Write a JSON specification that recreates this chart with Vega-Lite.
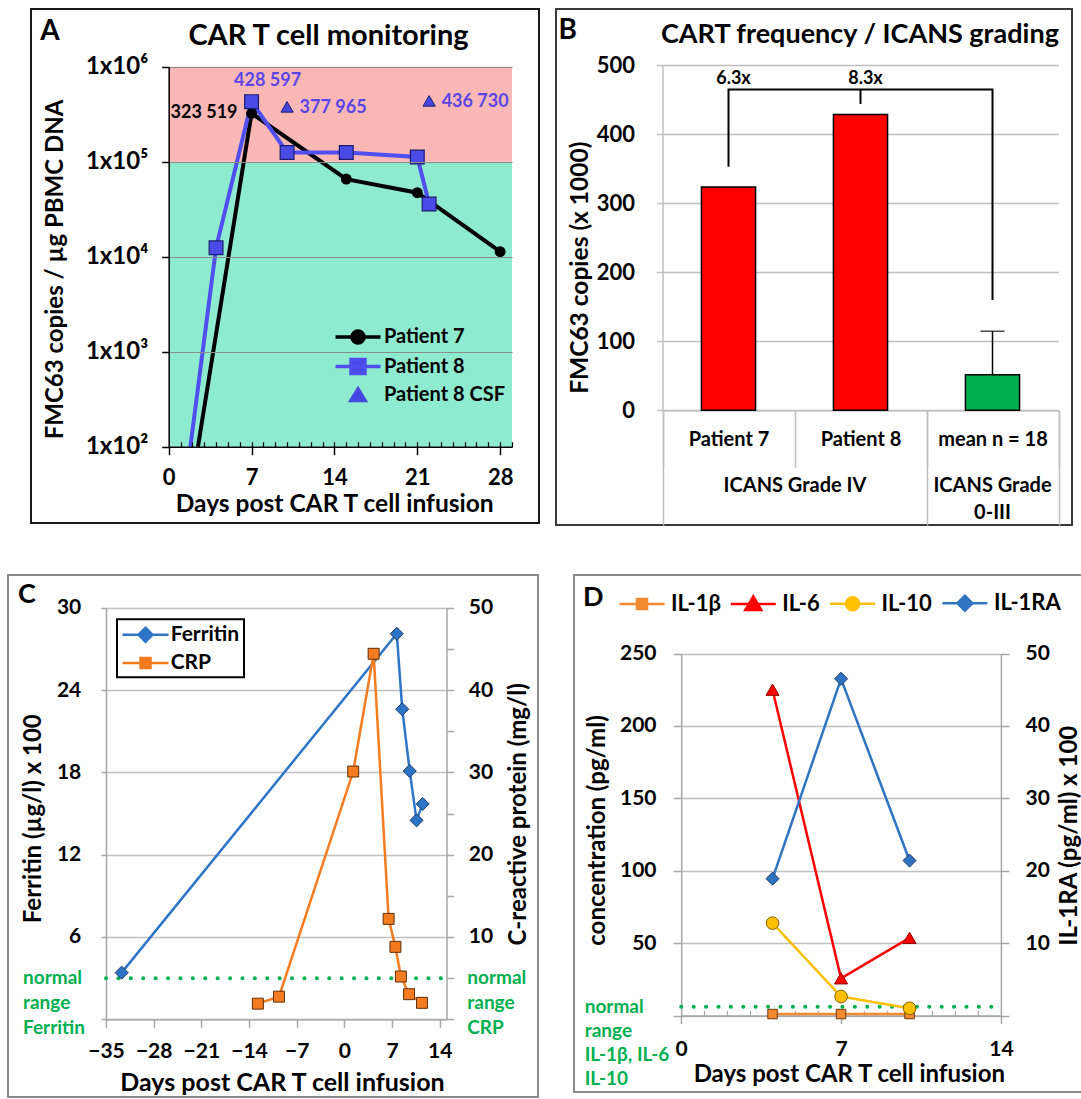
{
"$schema": "https://vega.github.io/schema/vega-lite/v6.json",
"background": "white",
"padding": {"left": 7, "top": 8, "right": 0, "bottom": 0},
"config": {
  "font": "Lato",
  "view": {"stroke": null},
  "axis": {"labelFont": "Lato", "titleFont": "Lato", "labelColor": "black", "titleColor": "black", "labelFontWeight": "bold", "titleFontWeight": "bold", "labelFlush": false, "labelOverlap": false},
  "legend": {"labelFont": "Lato", "labelColor": "black", "labelFontWeight": "bold", "strokeWidth": 2},
  "title": {"font": "Lato", "color": "black", "fontWeight": "bold"},
  "text": {"font": "Lato"},
  "locale": {"number": {"decimal": ".", "thousands": " ", "grouping": [3], "currency": ["", ""]}}
},
"datasets": {
  "carT": [
    {"day": 2.47, "value": 100, "series": "Patient 7"},
    {"day": 7, "value": 323519, "series": "Patient 7"},
    {"day": 15, "value": 65600, "series": "Patient 7"},
    {"day": 21, "value": 47200, "series": "Patient 7"},
    {"day": 28, "value": 11300, "series": "Patient 7"},
    {"day": 1.83, "value": 100, "series": "Patient 8"},
    {"day": 4, "value": 12400, "series": "Patient 8"},
    {"day": 7, "value": 428597, "series": "Patient 8"},
    {"day": 10, "value": 125000, "series": "Patient 8"},
    {"day": 15, "value": 125000, "series": "Patient 8"},
    {"day": 21, "value": 112000, "series": "Patient 8"},
    {"day": 22, "value": 35800, "series": "Patient 8"},
    {"day": 10, "value": 377965, "series": "Patient 8 CSF"},
    {"day": 22, "value": 436730, "series": "Patient 8 CSF"}
  ],
  "zonesA": [
    {"from": 100, "to": 100000, "zone": "below"},
    {"from": 100000, "to": 1000000, "zone": "above"}
  ],
  "seriesA": [{"series": "Patient 7"}, {"series": "Patient 8"}, {"series": "Patient 8 CSF"}],
  "barsB": [
    {"group": "Patient 7", "value": 323.519},
    {"group": "Patient 8", "value": 428.597},
    {"group": "mean n = 18", "value": 51.5, "upper": 114.6}
  ],
  "bracketB": [
    {"group": "Patient 7", "v": 353, "step": 1},
    {"group": "Patient 7", "v": 465, "step": 2},
    {"group": "mean n = 18", "v": 465, "step": 3},
    {"group": "mean n = 18", "v": 160, "step": 4}
  ],
  "bracketTickB": [{"group": "Patient 8", "v": 444, "v2": 465}],
  "ratiosB": [
    {"group": "Patient 7", "v": 480, "ratio": "6.3x"},
    {"group": "Patient 8", "v": 480, "ratio": "8.3x"}
  ],
  "ferritin": [
    {"day": -32.7, "value": 3.4},
    {"day": 7.7, "value": 28.1},
    {"day": 8.5, "value": 22.6},
    {"day": 9.6, "value": 18.1},
    {"day": 10.6, "value": 14.5},
    {"day": 11.5, "value": 15.7}
  ],
  "crp": [
    {"day": -12.7, "crp": 1.9},
    {"day": -9.6, "crp": 2.75},
    {"day": 1.3, "crp": 30.1},
    {"day": 4.3, "crp": 44.4},
    {"day": 6.5, "crp": 12.2},
    {"day": 7.5, "crp": 8.8},
    {"day": 8.3, "crp": 5.2},
    {"day": 9.5, "crp": 3.05},
    {"day": 11.4, "crp": 2.0}
  ],
  "seriesC": [{"series": "Ferritin"}, {"series": "CRP"}],
  "cyto": [
    {"day": 4, "value": 1, "series": "IL-1β"},
    {"day": 7, "value": 1, "series": "IL-1β"},
    {"day": 10, "value": 1, "series": "IL-1β"},
    {"day": 4, "value": 225, "series": "IL-6"},
    {"day": 7, "value": 25.7, "series": "IL-6"},
    {"day": 10, "value": 53.6, "series": "IL-6"},
    {"day": 4, "value": 63.8, "series": "IL-10"},
    {"day": 7, "value": 13.1, "series": "IL-10"},
    {"day": 10, "value": 5, "series": "IL-10"}
  ],
  "il1ra": [
    {"day": 4, "value": 18.9},
    {"day": 7, "value": 46.5},
    {"day": 10, "value": 21.4}
  ],
  "seriesD": [{"series": "IL-1β"}, {"series": "IL-6"}, {"series": "IL-10"}, {"series": "IL-1RA"}]
},
"spacing": 47,
"resolve": {"scale": {"color": "independent", "fill": "independent", "stroke": "independent", "shape": "independent"}},
"vconcat": [
 {"spacing": 15,
  "resolve": {"scale": {"color": "independent", "fill": "independent", "stroke": "independent", "shape": "independent"}},
  "hconcat": [
  {"width": 7, "height": 10, "data": {"values": [{}]}, "mark": {"type": "point", "opacity": 0}},
  {
   "width": 508, "height": 514,
   "view": {"stroke": "#1a1a1a", "strokeWidth": 2},
   "title": {"text": "CAR T cell monitoring", "anchor": "middle", "frame": "group", "orient": "top", "dx": 43.5, "offset": -56, "baseline": "middle", "fontSize": 29},
   "resolve": {"scale": {"x": "independent", "y": "independent", "color": "independent"}},
   "layer": [
    {"data": {"name": "zonesA"}, "mark": {"type": "rect"},
     "encoding": {
      "x": {"datum": 0, "type": "quantitative", "scale": {"domain": [0, 29], "range": [137.7, 481], "nice": false, "zero": false}, "axis": null},
      "x2": {"datum": 29},
      "y": {"field": "from", "type": "quantitative", "scale": {"type": "log", "domain": [100, 1000000], "range": [437.7, 57.7], "nice": false},
        "axis": {"orient": "left", "values": [100, 1000, 10000, 100000, 1000000], "offset": -137.7, "zindex": 1,
          "domainColor": "black", "domainWidth": 1.5, "tickColor": "black", "tickWidth": 1.5, "tickSize": 7,
          "grid": true, "gridColor": "#8C8C8C", "gridWidth": 1,
          "labelExpr": "'1x10' + (datum.value == 100 ? '²' : datum.value == 1000 ? '³' : datum.value == 10000 ? '⁴' : datum.value == 100000 ? '⁵' : '⁶')",
          "labelFontSize": 24, "labelPadding": 14, "labelBaseline": "middle", "labelAlign": "right",
          "title": "FMC63 copies / µg PBMC DNA", "titleFontSize": 24, "titleX": -113.7, "titleY": 260, "titleAngle": 270, "titleAlign": "center", "titleBaseline": "middle"}},
      "y2": {"field": "to"},
      "color": {"field": "zone", "type": "nominal", "scale": {"domain": ["below", "above"], "range": ["#8EEBCF", "#F9B8B6"]}, "legend": null}
     }},
    {"data": {"name": "carT"}, "transform": [{"filter": "datum.series != 'Patient 8 CSF'"}],
     "mark": {"type": "line", "strokeWidth": 4},
     "encoding": {
      "x": {"field": "day", "type": "quantitative", "scale": {"domain": [0, 29], "range": [137.7, 481], "nice": false, "zero": false},
        "axis": {"orient": "bottom", "values": [0, 7, 14, 21, 28], "offset": -76.3, "zindex": 1, "domainColor": "black", "domainWidth": 1.5,
          "tickColor": "black", "tickWidth": 1.5, "tickSize": 8, "grid": false, "labelFontSize": 22, "labelPadding": 22.5, "labelBaseline": "middle", "labelAngle": 0,
          "title": "Days post CAR T cell infusion", "titleFontSize": 24.5, "titleX": 303.2, "titleY": 58, "titleAlign": "center", "titleBaseline": "middle"}},
      "y": {"field": "value", "type": "quantitative", "scale": {"type": "log", "domain": [100, 1000000], "range": [437.7, 57.7], "nice": false}, "axis": null},
      "color": {"field": "series", "type": "nominal", "scale": {"domain": ["Patient 7", "Patient 8"], "range": ["black", "#4F4FEF"]}, "legend": null}
     }},
    {"data": {"name": "carT"}, "transform": [{"filter": "datum.series == 'Patient 7' && datum.value > 100"}],
     "mark": {"type": "point", "shape": "circle", "filled": true, "size": 120, "color": "black", "opacity": 1},
     "encoding": {
      "x": {"field": "day", "type": "quantitative", "scale": {"domain": [0, 29], "range": [137.7, 481], "nice": false, "zero": false},
        "axis": {"orient": "bottom", "values": [1,2,3,4,5,6,7,8,9,10,11,12,13,14,15,16,17,18,19,20,21,22,23,24,25,26,27,28,29], "offset": -76.3, "zindex": 1,
          "tickSize": -5, "tickColor": "black", "tickWidth": 1.2, "domain": false, "labels": false, "grid": false,
          "title": "A", "titleFontSize": 28, "titleX": 18.5, "titleY": -415.7, "titleAngle": 0, "titleAlign": "center", "titleBaseline": "middle"}},
      "y": {"field": "value", "type": "quantitative", "scale": {"type": "log", "domain": [100, 1000000], "range": [437.7, 57.7], "nice": false}, "axis": null}
     }},
    {"data": {"name": "carT"}, "transform": [{"filter": "datum.series == 'Patient 8' && datum.value > 100"}],
     "mark": {"type": "point", "shape": "square", "filled": true, "size": 190, "fill": "#4A4AE6", "stroke": "#1C1C6E", "strokeWidth": 1.2, "opacity": 1},
     "encoding": {
      "x": {"field": "day", "type": "quantitative", "scale": {"domain": [0, 29], "range": [137.7, 481], "nice": false, "zero": false}, "axis": null},
      "y": {"field": "value", "type": "quantitative", "scale": {"type": "log", "domain": [100, 1000000], "range": [437.7, 57.7], "nice": false}, "axis": null}
     }},
    {"data": {"name": "carT"}, "transform": [{"filter": "datum.series == 'Patient 8 CSF'"}],
     "mark": {"type": "point", "shape": "triangle-up", "filled": true, "size": 150, "fill": "#4646E0", "stroke": "#1C1C6E", "strokeWidth": 1, "opacity": 1},
     "encoding": {
      "x": {"field": "day", "type": "quantitative", "scale": {"domain": [0, 29], "range": [137.7, 481], "nice": false, "zero": false}, "axis": null},
      "y": {"field": "value", "type": "quantitative", "scale": {"type": "log", "domain": [100, 1000000], "range": [437.7, 57.7], "nice": false}, "axis": null}
     }},
    {"data": {"name": "carT"}, "transform": [{"filter": "datum.series == 'Patient 7' && datum.day == 7"}],
     "mark": {"type": "text", "align": "right", "baseline": "middle", "dx": -14, "dy": 0, "fontSize": 18, "fontWeight": "bold", "color": "black"},
     "encoding": {
      "x": {"field": "day", "type": "quantitative", "scale": {"domain": [0, 29], "range": [137.7, 481], "nice": false, "zero": false}, "axis": null},
      "y": {"field": "value", "type": "quantitative", "scale": {"type": "log", "domain": [100, 1000000], "range": [437.7, 57.7], "nice": false}, "axis": null},
      "text": {"field": "value", "type": "quantitative", "format": ","}
     }},
    {"data": {"name": "carT"}, "transform": [{"filter": "datum.series == 'Patient 8' && datum.day == 7"}],
     "mark": {"type": "text", "align": "center", "baseline": "middle", "dx": 16, "dy": -20.7, "fontSize": 18, "fontWeight": "bold", "color": "#5A46E6"},
     "encoding": {
      "x": {"field": "day", "type": "quantitative", "scale": {"domain": [0, 29], "range": [137.7, 481], "nice": false, "zero": false}, "axis": null},
      "y": {"field": "value", "type": "quantitative", "scale": {"type": "log", "domain": [100, 1000000], "range": [437.7, 57.7], "nice": false}, "axis": null},
      "text": {"field": "value", "type": "quantitative", "format": ","}
     }},
    {"data": {"name": "carT"}, "transform": [{"filter": "datum.series == 'Patient 8 CSF'"}],
     "mark": {"type": "text", "align": "left", "baseline": "middle", "dx": 12.5, "dy": 1, "fontSize": 18, "fontWeight": "bold", "color": "#5A46E6"},
     "encoding": {
      "x": {"field": "day", "type": "quantitative", "scale": {"domain": [0, 29], "range": [137.7, 481], "nice": false, "zero": false}, "axis": null},
      "y": {"field": "value", "type": "quantitative", "scale": {"type": "log", "domain": [100, 1000000], "range": [437.7, 57.7], "nice": false}, "axis": null},
      "text": {"field": "value", "type": "quantitative", "format": ","}
     }},
    {"data": {"name": "seriesA"},
     "mark": {"type": "point", "opacity": 0},
     "encoding": {
      "shape": {"field": "series", "type": "nominal",
        "scale": {"domain": ["Patient 7", "Patient 8", "Patient 8 CSF"], "range": ["M-1,0H3.5M1.85,0A0.6,0.6,0,1,1,0.65,0A0.6,0.6,0,1,1,1.85,0Z", "M-1,0H3.5M0.55,-0.7H1.95V0.7H0.55Z", "M1.25,-0.6L1.95,0.55H0.55Z"]},
        "legend": {"orient": "none", "legendX": 302.5, "legendY": 316, "title": null, "symbolSize": 400, "symbolStrokeWidth": 3.5, "symbolOpacity": 1, "labelFontSize": 20, "labelOffset": 26.4, "rowPadding": 1.5, "padding": 0, "direction": "vertical"}},
      "fill": {"field": "series", "type": "nominal", "scale": {"domain": ["Patient 7", "Patient 8", "Patient 8 CSF"], "range": ["black", "#4A4AE6", "#4646E0"]},
        "legend": {"orient": "none", "legendX": 302.5, "legendY": 316, "title": null, "symbolSize": 400, "symbolStrokeWidth": 3.5, "symbolOpacity": 1, "labelFontSize": 20, "labelOffset": 26.4, "rowPadding": 1.5, "padding": 0, "direction": "vertical"}},
      "stroke": {"field": "series", "type": "nominal", "scale": {"domain": ["Patient 7", "Patient 8", "Patient 8 CSF"], "range": ["black", "#4F4FEF", "#4646E0"]},
        "legend": {"orient": "none", "legendX": 302.5, "legendY": 316, "title": null, "symbolSize": 400, "symbolStrokeWidth": 3.5, "symbolOpacity": 1, "labelFontSize": 20, "labelOffset": 26.4, "rowPadding": 1.5, "padding": 0, "direction": "vertical"}}
     }}
   ]
  },
  {
   "width": 516, "height": 516,
   "view": {"stroke": "#3a3a3a", "strokeWidth": 2},
   "title": {"text": "CART frequency / ICANS grading", "anchor": "middle", "frame": "group", "orient": "top", "dx": 45.9, "offset": -52.9, "baseline": "middle", "fontSize": 27},
   "resolve": {"scale": {"x": "independent", "y": "independent"}},
   "layer": [
    {"data": {"name": "barsB"},
     "mark": {"type": "bar", "stroke": "black", "strokeWidth": 1.5},
     "encoding": {
      "x": {"field": "group", "type": "nominal", "sort": null,
        "scale": {"type": "band", "domain": ["Patient 7", "Patient 8", "mean n = 18"], "range": [106.5, 502.5], "paddingInner": 0.59, "paddingOuter": 0.295},
        "axis": null},
      "y": {"field": "value", "type": "quantitative", "scale": {"domain": [0, 500], "range": [401.3, 56.3], "nice": false},
        "axis": {"orient": "left", "values": [0, 100, 200, 300, 400, 500], "offset": -106.5, "domainColor": "#BFBFBF", "domainWidth": 1.5,
          "tickColor": "#BFBFBF", "tickWidth": 1.5, "tickSize": 6, "grid": true, "gridColor": "#BFBFBF", "gridWidth": 1.5,
          "labelFontSize": 22, "labelPadding": 22, "labelBaseline": "middle",
          "title": "FMC63 copies (x 1000)", "titleFontSize": 24.5, "titleX": -82.1, "titleY": 258.2, "titleAngle": 270, "titleAlign": "center", "titleBaseline": "middle"}},
      "fill": {"field": "group", "type": "nominal", "scale": {"domain": ["Patient 7", "Patient 8", "mean n = 18"], "range": ["#FF0000", "#FF0000", "#00B050"]}, "legend": null}
     }},
    {"data": {"name": "barsB"}, "transform": [{"filter": "datum.group == 'mean n = 18'"}],
     "mark": {"type": "rule", "color": "black", "strokeWidth": 1.5},
     "encoding": {
      "x": {"field": "group", "type": "nominal", "sort": null,
        "scale": {"type": "band", "domain": ["Patient 7", "Patient 8", "mean n = 18"], "range": [106.5, 502.5], "paddingInner": 0, "paddingOuter": 0},
        "axis": {"orient": "bottom", "offset": -114.7, "tickBand": "extent", "tickSize": 57, "tickColor": "#BFBFBF", "tickWidth": 1.5,
          "domainColor": "#BFBFBF", "domainWidth": 1.5, "grid": false, "labelFontSize": 20, "labelPadding": -27.8, "labelBaseline": "middle", "labelAngle": 0, "title": null}},
      "y": {"field": "value", "type": "quantitative", "scale": {"domain": [0, 500], "range": [401.3, 56.3], "nice": false}, "axis": null},
      "y2": {"field": "upper"}
     }},
    {"data": {"name": "barsB"}, "transform": [{"filter": "datum.group == 'mean n = 18'"}],
     "mark": {"type": "tick", "size": 24, "thickness": 1.5, "color": "black"},
     "encoding": {
      "x": {"field": "group", "type": "nominal", "sort": null,
        "scale": {"type": "band", "domain": ["Patient 7", "Patient 8", "mean n = 18"], "range": [106.5, 502.5], "paddingInner": 0, "paddingOuter": 0},
        "axis": {"orient": "bottom", "offset": -114.7, "values": ["mean n = 18"], "tickBand": "extent", "tickSize": 114.7, "tickColor": "#BFBFBF", "tickWidth": 1.5,
          "domain": false, "grid": false, "labels": false, "title": null}},
      "y": {"field": "upper", "type": "quantitative", "scale": {"domain": [0, 500], "range": [401.3, 56.3], "nice": false}, "axis": null}
     }},
    {"data": {"name": "bracketB"},
     "mark": {"type": "line", "color": "black", "strokeWidth": 2},
     "encoding": {
      "x": {"field": "group", "type": "nominal", "sort": null,
        "scale": {"type": "band", "domain": ["Patient 7", "Patient 8", "mean n = 18"], "range": [106.5, 502.5], "paddingInner": 0, "paddingOuter": 0},
        "axis": {"orient": "bottom", "offset": -114.7, "values": ["Patient 7"], "tickOffset": -66, "tickSize": 114.7, "tickColor": "#BFBFBF", "tickWidth": 1.5,
          "domain": false, "grid": false,
          "labelExpr": "'ICANS Grade IV'", "labelOffset": 132, "labelPadding": -49.5, "labelBaseline": "top", "labelFontSize": 20, "labelAngle": 0,
          "title": "B", "titleFontSize": 28, "titleX": 11.3, "titleY": -380, "titleAngle": 0, "titleAlign": "center", "titleBaseline": "middle"}},
      "y": {"field": "v", "type": "quantitative", "scale": {"domain": [0, 500], "range": [401.3, 56.3], "nice": false}, "axis": null},
      "order": {"field": "step", "type": "quantitative"}
     }},
    {"data": {"name": "bracketTickB"},
     "mark": {"type": "rule", "color": "black", "strokeWidth": 2},
     "encoding": {
      "x": {"field": "group", "type": "nominal", "sort": null,
        "scale": {"type": "band", "domain": ["Patient 7", "Patient 8", "mean n = 18"], "range": [106.5, 502.5], "paddingInner": 0, "paddingOuter": 0},
        "axis": {"orient": "bottom", "offset": -114.7, "values": ["mean n = 18"], "ticks": false, "domain": false, "grid": false,
          "labelExpr": "['ICANS Grade', '0-III']", "labelPadding": 65, "labelBaseline": "top", "labelLineHeight": 27, "labelFontSize": 20, "labelAngle": 0, "title": null}},
      "y": {"field": "v", "type": "quantitative", "scale": {"domain": [0, 500], "range": [401.3, 56.3], "nice": false}, "axis": null},
      "y2": {"field": "v2"}
     }},
    {"data": {"name": "ratiosB"},
     "mark": {"type": "text", "align": "center", "baseline": "middle", "dx": 5, "fontSize": 18, "fontWeight": "bold", "color": "black"},
     "encoding": {
      "x": {"field": "group", "type": "nominal", "sort": null,
        "scale": {"type": "band", "domain": ["Patient 7", "Patient 8", "mean n = 18"], "range": [106.5, 502.5], "paddingInner": 0, "paddingOuter": 0}, "axis": null},
      "y": {"field": "v", "type": "quantitative", "scale": {"domain": [0, 500], "range": [401.3, 56.3], "nice": false}, "axis": null},
      "text": {"field": "ratio"}
     }}
   ]
  }
 ]},
 {"spacing": 34,
  "resolve": {"scale": {"color": "independent", "fill": "independent", "stroke": "independent", "shape": "independent"}},
  "hconcat": [
  {
   "width": 530, "height": 522,
   "view": {"stroke": "#8a8a8a", "strokeWidth": 2},
   "title": {"text": "C", "anchor": "start", "frame": "group", "orient": "top", "dx": 10, "offset": -47, "baseline": "middle", "fontSize": 27},
   "resolve": {"scale": {"x": "independent", "y": "independent"}},
   "layer": [
    {"data": {"values": [{}]},
     "mark": {"type": "rule", "color": "#00B050", "strokeWidth": 4, "strokeDash": [0.1, 12.3], "strokeCap": "round"},
     "encoding": {
      "x": {"datum": -35, "type": "quantitative", "scale": {"domain": [-35, 15], "range": [98, 438.5], "nice": false, "zero": false}, "axis": null},
      "x2": {"datum": 15},
      "y": {"datum": 3, "type": "quantitative", "scale": {"domain": [0, 30], "range": [444.3, 32.7], "nice": false}, "axis": null}
     }},
    {"data": {"name": "ferritin"},
     "mark": {"type": "line", "color": "#2E75C8", "strokeWidth": 2.5},
     "encoding": {
      "x": {"field": "day", "type": "quantitative", "scale": {"domain": [-35, 15], "range": [98, 438.5], "nice": false, "zero": false},
        "axis": {"orient": "bottom", "values": [-35, -28, -21, -14, -7, 0, 7, 14], "offset": -77.7, "domainColor": "#A6A6A6", "domainWidth": 1.5,
          "tickColor": "#A6A6A6", "tickWidth": 1.5, "tickSize": 8, "grid": false, "labelFontSize": 21, "labelPadding": 24.5, "labelBaseline": "middle", "labelAngle": 0,
          "title": "Days post CAR T cell infusion", "titleFontSize": 25, "titleX": 274, "titleY": 63.5, "titleAlign": "center", "titleBaseline": "middle"}},
      "y": {"field": "value", "type": "quantitative", "scale": {"domain": [0, 30], "range": [444.3, 32.7], "nice": false},
        "axis": {"orient": "left", "values": [0, 6, 12, 18, 24, 30], "offset": -98, "domainColor": "#A6A6A6", "domainWidth": 1.5,
          "tickColor": "#A6A6A6", "tickWidth": 1.5, "tickSize": 5, "grid": true, "gridColor": "#C0C0C0", "gridWidth": 1.5,
          "labelExpr": "datum.value == 0 ? '' : datum.label", "labelFontSize": 21, "labelPadding": 20.2, "labelBaseline": "middle",
          "title": "Ferritin (µg/l) x 100", "titleFontSize": 24, "titleX": -72.5, "titleY": 243.2, "titleAngle": 270, "titleAlign": "center", "titleBaseline": "middle"}}
     }},
    {"data": {"name": "crp"},
     "mark": {"type": "line", "color": "#F47C20", "strokeWidth": 2.5},
     "encoding": {
      "x": {"field": "day", "type": "quantitative", "scale": {"domain": [-35, 15], "range": [98, 438.5], "nice": false, "zero": false}, "axis": null},
      "y": {"field": "crp", "type": "quantitative", "scale": {"domain": [0, 50], "range": [444.3, 32.7], "nice": false},
        "axis": {"orient": "right", "values": [0, 5, 10, 15, 20, 25, 30, 35, 40, 45, 50], "offset": -91.5, "domainColor": "#A6A6A6", "domainWidth": 1.5,
          "tickColor": "#A6A6A6", "tickWidth": 1.5, "tickSize": 7, "grid": false,
          "labelExpr": "datum.value % 10 == 0 && datum.value > 0 ? datum.label : ''", "labelFontSize": 21, "labelPadding": 14.8, "labelBaseline": "middle",
          "title": "C-reactive protein (mg/l)", "titleFontSize": 24, "titleX": 71.8, "titleY": 238.9, "titleAngle": 270, "titleAlign": "center", "titleBaseline": "middle"}}
     }},
    {"data": {"name": "ferritin"},
     "mark": {"type": "point", "shape": "diamond", "filled": true, "size": 170, "fill": "#2E75C8", "stroke": "#203864", "strokeWidth": 1, "opacity": 1},
     "encoding": {
      "x": {"field": "day", "type": "quantitative", "scale": {"domain": [-35, 15], "range": [98, 438.5], "nice": false, "zero": false}, "axis": null},
      "y": {"field": "value", "type": "quantitative", "scale": {"domain": [0, 30], "range": [444.3, 32.7], "nice": false}, "axis": null}
     }},
    {"data": {"name": "crp"},
     "mark": {"type": "point", "shape": "square", "filled": true, "size": 120, "fill": "#F47C20", "stroke": "#5E2E06", "strokeWidth": 1, "opacity": 1},
     "encoding": {
      "x": {"field": "day", "type": "quantitative", "scale": {"domain": [-35, 15], "range": [98, 438.5], "nice": false, "zero": false}, "axis": null},
      "y": {"field": "crp", "type": "quantitative", "scale": {"domain": [0, 50], "range": [444.3, 32.7], "nice": false}, "axis": null}
     }},
    {"data": {"values": [{}]},
     "mark": {"type": "text", "text": ["normal", "range", "Ferritin"], "align": "left", "baseline": "middle", "dx": -83, "lineHeight": 25, "fontSize": 19, "fontWeight": "bold", "color": "#00B050"},
     "encoding": {
      "x": {"datum": -35, "type": "quantitative", "scale": {"domain": [-35, 15], "range": [98, 438.5], "nice": false, "zero": false}, "axis": null},
      "y": {"datum": 3, "type": "quantitative", "scale": {"domain": [0, 30], "range": [444.3, 32.7], "nice": false}, "axis": null}
     }},
    {"data": {"values": [{}]},
     "mark": {"type": "text", "text": ["normal", "range", "CRP"], "align": "left", "baseline": "middle", "dx": 20.8, "lineHeight": 25, "fontSize": 19, "fontWeight": "bold", "color": "#00B050"},
     "encoding": {
      "x": {"datum": 15, "type": "quantitative", "scale": {"domain": [-35, 15], "range": [98, 438.5], "nice": false, "zero": false}, "axis": null},
      "y": {"datum": 3, "type": "quantitative", "scale": {"domain": [0, 30], "range": [444.3, 32.7], "nice": false}, "axis": null}
     }},
    {"data": {"name": "seriesC"},
     "mark": {"type": "point", "opacity": 0},
     "encoding": {
      "shape": {"field": "series", "type": "nominal",
        "scale": {"domain": ["Ferritin", "CRP"], "range": ["M-1,0H3.6M1.3,-0.7L2,0L1.3,0.7L0.6,0Z", "M-1,0H3.6M0.8,-0.5H1.8V0.5H0.8Z"]},
        "legend": {"orient": "none", "legendX": 109, "legendY": 44.2, "title": null, "symbolSize": 400, "symbolStrokeWidth": 2.5, "symbolOpacity": 1, "labelFontSize": 21, "labelOffset": 26.7, "rowPadding": 4.4, "padding": 4, "strokeColor": "black", "fillColor": "white", "direction": "vertical"}},
      "fill": {"field": "series", "type": "nominal", "scale": {"domain": ["Ferritin", "CRP"], "range": ["#2E75C8", "#F47C20"]},
        "legend": {"orient": "none", "legendX": 109, "legendY": 44.2, "title": null, "symbolSize": 400, "symbolStrokeWidth": 2.5, "symbolOpacity": 1, "labelFontSize": 21, "labelOffset": 26.7, "rowPadding": 4.4, "padding": 4, "strokeColor": "black", "fillColor": "white", "direction": "vertical"}},
      "stroke": {"field": "series", "type": "nominal", "scale": {"domain": ["Ferritin", "CRP"], "range": ["#2E75C8", "#F47C20"]},
        "legend": {"orient": "none", "legendX": 109, "legendY": 44.2, "title": null, "symbolSize": 400, "symbolStrokeWidth": 2.5, "symbolOpacity": 1, "labelFontSize": 21, "labelOffset": 26.7, "rowPadding": 4.4, "padding": 4, "strokeColor": "black", "fillColor": "white", "direction": "vertical"}}
     }}
   ]
  },
  {
   "width": 510, "height": 517,
   "view": {"stroke": "#8a8a8a", "strokeWidth": 2},
   "title": {"text": "D", "anchor": "start", "frame": "group", "orient": "top", "dx": 9, "offset": -50, "baseline": "middle", "fontSize": 27},
   "resolve": {"scale": {"x": "independent", "y": "independent"}},
   "layer": [
    {"data": {"values": [{}]},
     "mark": {"type": "rule", "color": "#00B050", "strokeWidth": 4, "strokeDash": [0.1, 12.3], "strokeCap": "round"},
     "encoding": {
      "x": {"datum": 0, "type": "quantitative", "scale": {"domain": [0, 14], "range": [107.2, 426.9], "nice": false, "zero": false},
        "axis": {"orient": "bottom", "values": [1,2,3,4,5,6,7,8,9,10,11,12,13], "offset": -76.5, "tickSize": -5, "tickColor": "#A6A6A6", "tickWidth": 1.2,
          "domain": false, "labels": false, "grid": false, "title": null}},
      "x2": {"datum": 14},
      "y": {"datum": 6, "type": "quantitative", "scale": {"domain": [0, 250], "range": [440.5, 78.5], "nice": false}, "axis": null}
     }},
    {"data": {"name": "cyto"},
     "mark": {"type": "line", "strokeWidth": 2.5},
     "encoding": {
      "x": {"field": "day", "type": "quantitative", "scale": {"domain": [0, 14], "range": [107.2, 426.9], "nice": false, "zero": false},
        "axis": {"orient": "bottom", "values": [0, 7, 14], "offset": -76.5, "domainColor": "#A6A6A6", "domainWidth": 1.5, "tickColor": "#A6A6A6", "tickWidth": 1.5, "tickSize": 8,
          "grid": false, "labelFontSize": 21, "labelPadding": 25.5, "labelBaseline": "middle", "labelAngle": 0,
          "title": "Days post CAR T cell infusion", "titleFontSize": 24, "titleX": 274.8, "titleY": 59.3, "titleAlign": "center", "titleBaseline": "middle"}},
      "y": {"field": "value", "type": "quantitative", "scale": {"domain": [0, 250], "range": [440.5, 78.5], "nice": false},
        "axis": {"orient": "left", "values": [0, 50, 100, 150, 200, 250], "offset": -107.2, "domainColor": "#A6A6A6", "domainWidth": 1.5,
          "tickColor": "#A6A6A6", "tickWidth": 1.5, "tickSize": 8, "grid": true, "gridColor": "#C0C0C0", "gridWidth": 1.5,
          "labelExpr": "datum.value == 0 ? '' : datum.label", "labelFontSize": 21, "labelPadding": 17.2, "labelBaseline": "middle",
          "title": "concentration (pg/ml)", "titleFontSize": 24, "titleX": -83.8, "titleY": 255, "titleAngle": 270, "titleAlign": "center", "titleBaseline": "middle"}},
      "color": {"field": "series", "type": "nominal", "scale": {"domain": ["IL-1β", "IL-6", "IL-10"], "range": ["#F28A30", "#FF0000", "#FFC000"]}, "legend": null}
     }},
    {"data": {"name": "il1ra"},
     "mark": {"type": "line", "color": "#2F74C0", "strokeWidth": 2.5},
     "encoding": {
      "x": {"field": "day", "type": "quantitative", "scale": {"domain": [0, 14], "range": [107.2, 426.9], "nice": false, "zero": false}, "axis": null},
      "y": {"field": "value", "type": "quantitative", "scale": {"domain": [0, 50], "range": [440.5, 78.5], "nice": false},
        "axis": {"orient": "right", "values": [0, 10, 20, 30, 40, 50], "offset": -83.1, "domainColor": "#A6A6A6", "domainWidth": 1.5,
          "tickColor": "#A6A6A6", "tickWidth": 1.5, "tickSize": 8, "grid": false,
          "labelExpr": "datum.value == 0 ? '' : datum.label", "labelFontSize": 21, "labelPadding": 16.1, "labelBaseline": "middle",
          "title": "IL-1RA (pg/ml) x 100", "titleFontSize": 24, "titleX": 68.4, "titleY": 260.2, "titleAngle": 270, "titleAlign": "center", "titleBaseline": "middle"}}
     }},
    {"data": {"name": "cyto"}, "transform": [{"filter": "datum.series == 'IL-1β'"}],
     "mark": {"type": "point", "shape": "square", "filled": true, "size": 90, "fill": "#F28A30", "stroke": "#6B3A10", "strokeWidth": 1, "opacity": 1},
     "encoding": {
      "x": {"field": "day", "type": "quantitative", "scale": {"domain": [0, 14], "range": [107.2, 426.9], "nice": false, "zero": false}, "axis": null},
      "y": {"field": "value", "type": "quantitative", "scale": {"domain": [0, 250], "range": [440.5, 78.5], "nice": false}, "axis": null}
     }},
    {"data": {"name": "cyto"}, "transform": [{"filter": "datum.series == 'IL-6'"}],
     "mark": {"type": "point", "shape": "triangle-up", "filled": true, "size": 170, "fill": "#FF0000", "stroke": "#8B0000", "strokeWidth": 1, "opacity": 1},
     "encoding": {
      "x": {"field": "day", "type": "quantitative", "scale": {"domain": [0, 14], "range": [107.2, 426.9], "nice": false, "zero": false}, "axis": null},
      "y": {"field": "value", "type": "quantitative", "scale": {"domain": [0, 250], "range": [440.5, 78.5], "nice": false}, "axis": null}
     }},
    {"data": {"name": "cyto"}, "transform": [{"filter": "datum.series == 'IL-10'"}],
     "mark": {"type": "point", "shape": "circle", "filled": true, "size": 160, "fill": "#FFC000", "stroke": "#7F6000", "strokeWidth": 1, "opacity": 1},
     "encoding": {
      "x": {"field": "day", "type": "quantitative", "scale": {"domain": [0, 14], "range": [107.2, 426.9], "nice": false, "zero": false}, "axis": null},
      "y": {"field": "value", "type": "quantitative", "scale": {"domain": [0, 250], "range": [440.5, 78.5], "nice": false}, "axis": null}
     }},
    {"data": {"name": "il1ra"},
     "mark": {"type": "point", "shape": "diamond", "filled": true, "size": 170, "fill": "#2F74C0", "stroke": "#1F3864", "strokeWidth": 1, "opacity": 1},
     "encoding": {
      "x": {"field": "day", "type": "quantitative", "scale": {"domain": [0, 14], "range": [107.2, 426.9], "nice": false, "zero": false}, "axis": null},
      "y": {"field": "value", "type": "quantitative", "scale": {"domain": [0, 50], "range": [440.5, 78.5], "nice": false}, "axis": null}
     }},
    {"data": {"values": [{}]},
     "mark": {"type": "text", "text": ["normal", "range", "IL-1β, IL-6", "IL-10"], "align": "left", "baseline": "middle", "dx": -96.5, "lineHeight": 24, "fontSize": 19, "fontWeight": "bold", "color": "#00B050"},
     "encoding": {
      "x": {"datum": 0, "type": "quantitative", "scale": {"domain": [0, 14], "range": [107.2, 426.9], "nice": false, "zero": false}, "axis": null},
      "y": {"datum": 6, "type": "quantitative", "scale": {"domain": [0, 250], "range": [440.5, 78.5], "nice": false}, "axis": null}
     }},
    {"data": {"name": "seriesD"},
     "mark": {"type": "point", "opacity": 0},
     "encoding": {
      "shape": {"field": "series", "type": "nominal",
        "scale": {"domain": ["IL-1β", "IL-6", "IL-10", "IL-1RA"], "range": ["M-1,0H3.5M0.75,-0.5H1.75V0.5H0.75Z", "M-1,0H3.5M1.25,-0.75L2.05,0.6H0.45Z", "M-1,0H3.5M1.9,0A0.65,0.65,0,1,1,0.6,0A0.65,0.65,0,1,1,1.9,0Z", "M-1,0H3.5M1.25,-0.75L2,0L1.25,0.75L0.5,0Z"]},
        "legend": {"orient": "none", "legendX": 44, "legendY": 16.7, "title": null, "symbolSize": 400, "symbolStrokeWidth": 2.5, "symbolOpacity": 1, "labelFontSize": 22, "labelOffset": 30, "columnPadding": 4.3, "padding": 0, "direction": "horizontal"}},
      "fill": {"field": "series", "type": "nominal", "scale": {"domain": ["IL-1β", "IL-6", "IL-10", "IL-1RA"], "range": ["#F28A30", "#FF0000", "#FFC000", "#2F74C0"]},
        "legend": {"orient": "none", "legendX": 44, "legendY": 16.7, "title": null, "symbolSize": 400, "symbolStrokeWidth": 2.5, "symbolOpacity": 1, "labelFontSize": 22, "labelOffset": 30, "columnPadding": 4.3, "padding": 0, "direction": "horizontal"}},
      "stroke": {"field": "series", "type": "nominal", "scale": {"domain": ["IL-1β", "IL-6", "IL-10", "IL-1RA"], "range": ["#F28A30", "#FF0000", "#FFC000", "#2F74C0"]},
        "legend": {"orient": "none", "legendX": 44, "legendY": 16.7, "title": null, "symbolSize": 400, "symbolStrokeWidth": 2.5, "symbolOpacity": 1, "labelFontSize": 22, "labelOffset": 30, "columnPadding": 4.3, "padding": 0, "direction": "horizontal"}}
     }}
   ]
  }
 ]}
]
}
